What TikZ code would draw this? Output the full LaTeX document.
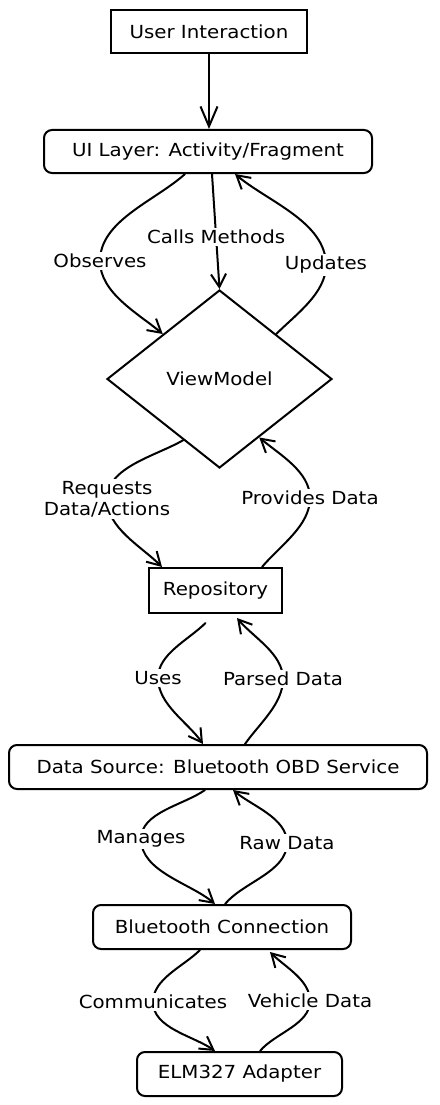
\documentclass[tikz,border=0pt]{standalone}
\usepackage{fontspec}
\setmainfont[FakeStretch=1.1]{DejaVu Sans}
\usetikzlibrary{arrows.meta,shapes.geometric,calc}
\begin{document}
\begin{tikzpicture}[x=1pt,y=1pt,
  every node/.style={font=\fontsize{18}{21}\selectfont},
  box/.style={draw, line width=2pt, inner sep=0pt},
  rbox/.style={box, rounded corners=8pt},
  arr/.style={line width=2pt, line cap=round, looseness=0.85, -{Straight Barb[length=13pt,width=15pt,line width=2pt]}},
  bigarr/.style={line width=2.2pt, -{Straight Barb[length=20pt,width=17pt,line width=2pt]}},
  lbl/.style={fill=white, inner sep=2pt, align=center}
]
\useasboundingbox (0,0) rectangle (439,-1105);

% nodes
\node[box, minimum width=196pt, minimum height=43pt] (user) at (209,-31.5) {User Interaction};
\node[rbox, minimum width=328pt, minimum height=43pt] (ui) at (208,-151.5) {UI Layer: Activity/Fragment};
\node[draw, diamond, line width=2pt, minimum width=225pt, minimum height=178pt, inner sep=0pt] (vm) at (219.5,-379) {ViewModel};
\node[box, minimum width=133pt, minimum height=45pt] (repo) at (215.5,-590.5) {Repository};
\node[rbox, minimum width=418pt, minimum height=44pt] (ds) at (218,-767) {Data Source: Bluetooth OBD Service};
\node[rbox, minimum width=258pt, minimum height=44pt] (bc) at (222,-927) {Bluetooth Connection};
\node[rbox, minimum width=205pt, minimum height=44pt] (elm) at (239.5,-1074) {ELM327 Adapter};

% label positions
\coordinate (m1) at (100,-261);
\coordinate (m3) at (326,-265);
\coordinate (m4) at (107,-499);
\coordinate (m5) at (310,-498);
\coordinate (m6) at (158,-678);
\coordinate (m7) at (283,-679);
\coordinate (m8) at (141,-839);
\coordinate (m9) at (287,-843);
\coordinate (m10) at (153,-1002);
\coordinate (m11) at (310,-1001);

% connectors
\draw[bigarr] (user.south) -- (user.south |- ui.north);

\draw[arr] ([xshift=-23pt]ui.south) to[out=222,in=90] (m1) node[lbl]{Observes}
  to[out=270,in=140] ($(vm.north)!0.5!(vm.west)$);
\draw[arr] ([xshift=4pt]ui.south) -- node[lbl,pos=0.55]{Calls Methods} (vm.north);
\draw[arr] ($(vm.north)!0.5!(vm.east)$) to[out=45,in=270] (m3) node[lbl]{Updates}
  to[out=90,in=-40] ([xshift=27pt]ui.south);

\draw[arr] ($(vm.west)!0.68!(vm.south)$) to[out=210,in=90] (m4) node[lbl]{Requests\\Data/Actions}
  to[out=270,in=135] ([xshift=-53.5pt]repo.north);
\draw[arr] ([xshift=46.5pt]repo.north) to[out=50,in=270] (m5) node[lbl]{Provides Data}
  to[out=90,in=-40] ($(vm.south)!0.35!(vm.east)$);

\draw[arr] ([xshift=-10pt,yshift=-9pt]repo.south) to[out=225,in=90] (m6) node[lbl]{Uses}
  to[out=270,in=125] ([xshift=-15pt]ds.north);
\draw[arr] ([xshift=27pt]ds.north) to[out=55,in=270] (m7) node[lbl]{Parsed Data}
  to[out=90,in=-50] ([xshift=21.5pt,yshift=-4pt]repo.south);

\draw[arr] ([xshift=-13pt]ds.south) to[out=215,in=90] (m8) node[lbl]{Manages}
  to[out=270,in=140] ([xshift=-7pt]bc.north);
\draw[arr] ([xshift=3pt]bc.north) to[out=50,in=270] (m9) node[lbl]{Raw Data}
  to[out=90,in=-40] ([xshift=15pt]ds.south);

\draw[arr] ([xshift=-22pt]bc.south) to[out=225,in=90] (m10) node[lbl]{Communicates}
  to[out=270,in=145] ([xshift=-24.5pt]elm.north);
\draw[arr] ([xshift=20.5pt]elm.north) to[out=50,in=270] (m11) node[lbl]{Vehicle Data}
  to[out=90,in=-45] ([xshift=48pt,yshift=-2pt]bc.south);
\end{tikzpicture}
\end{document}
